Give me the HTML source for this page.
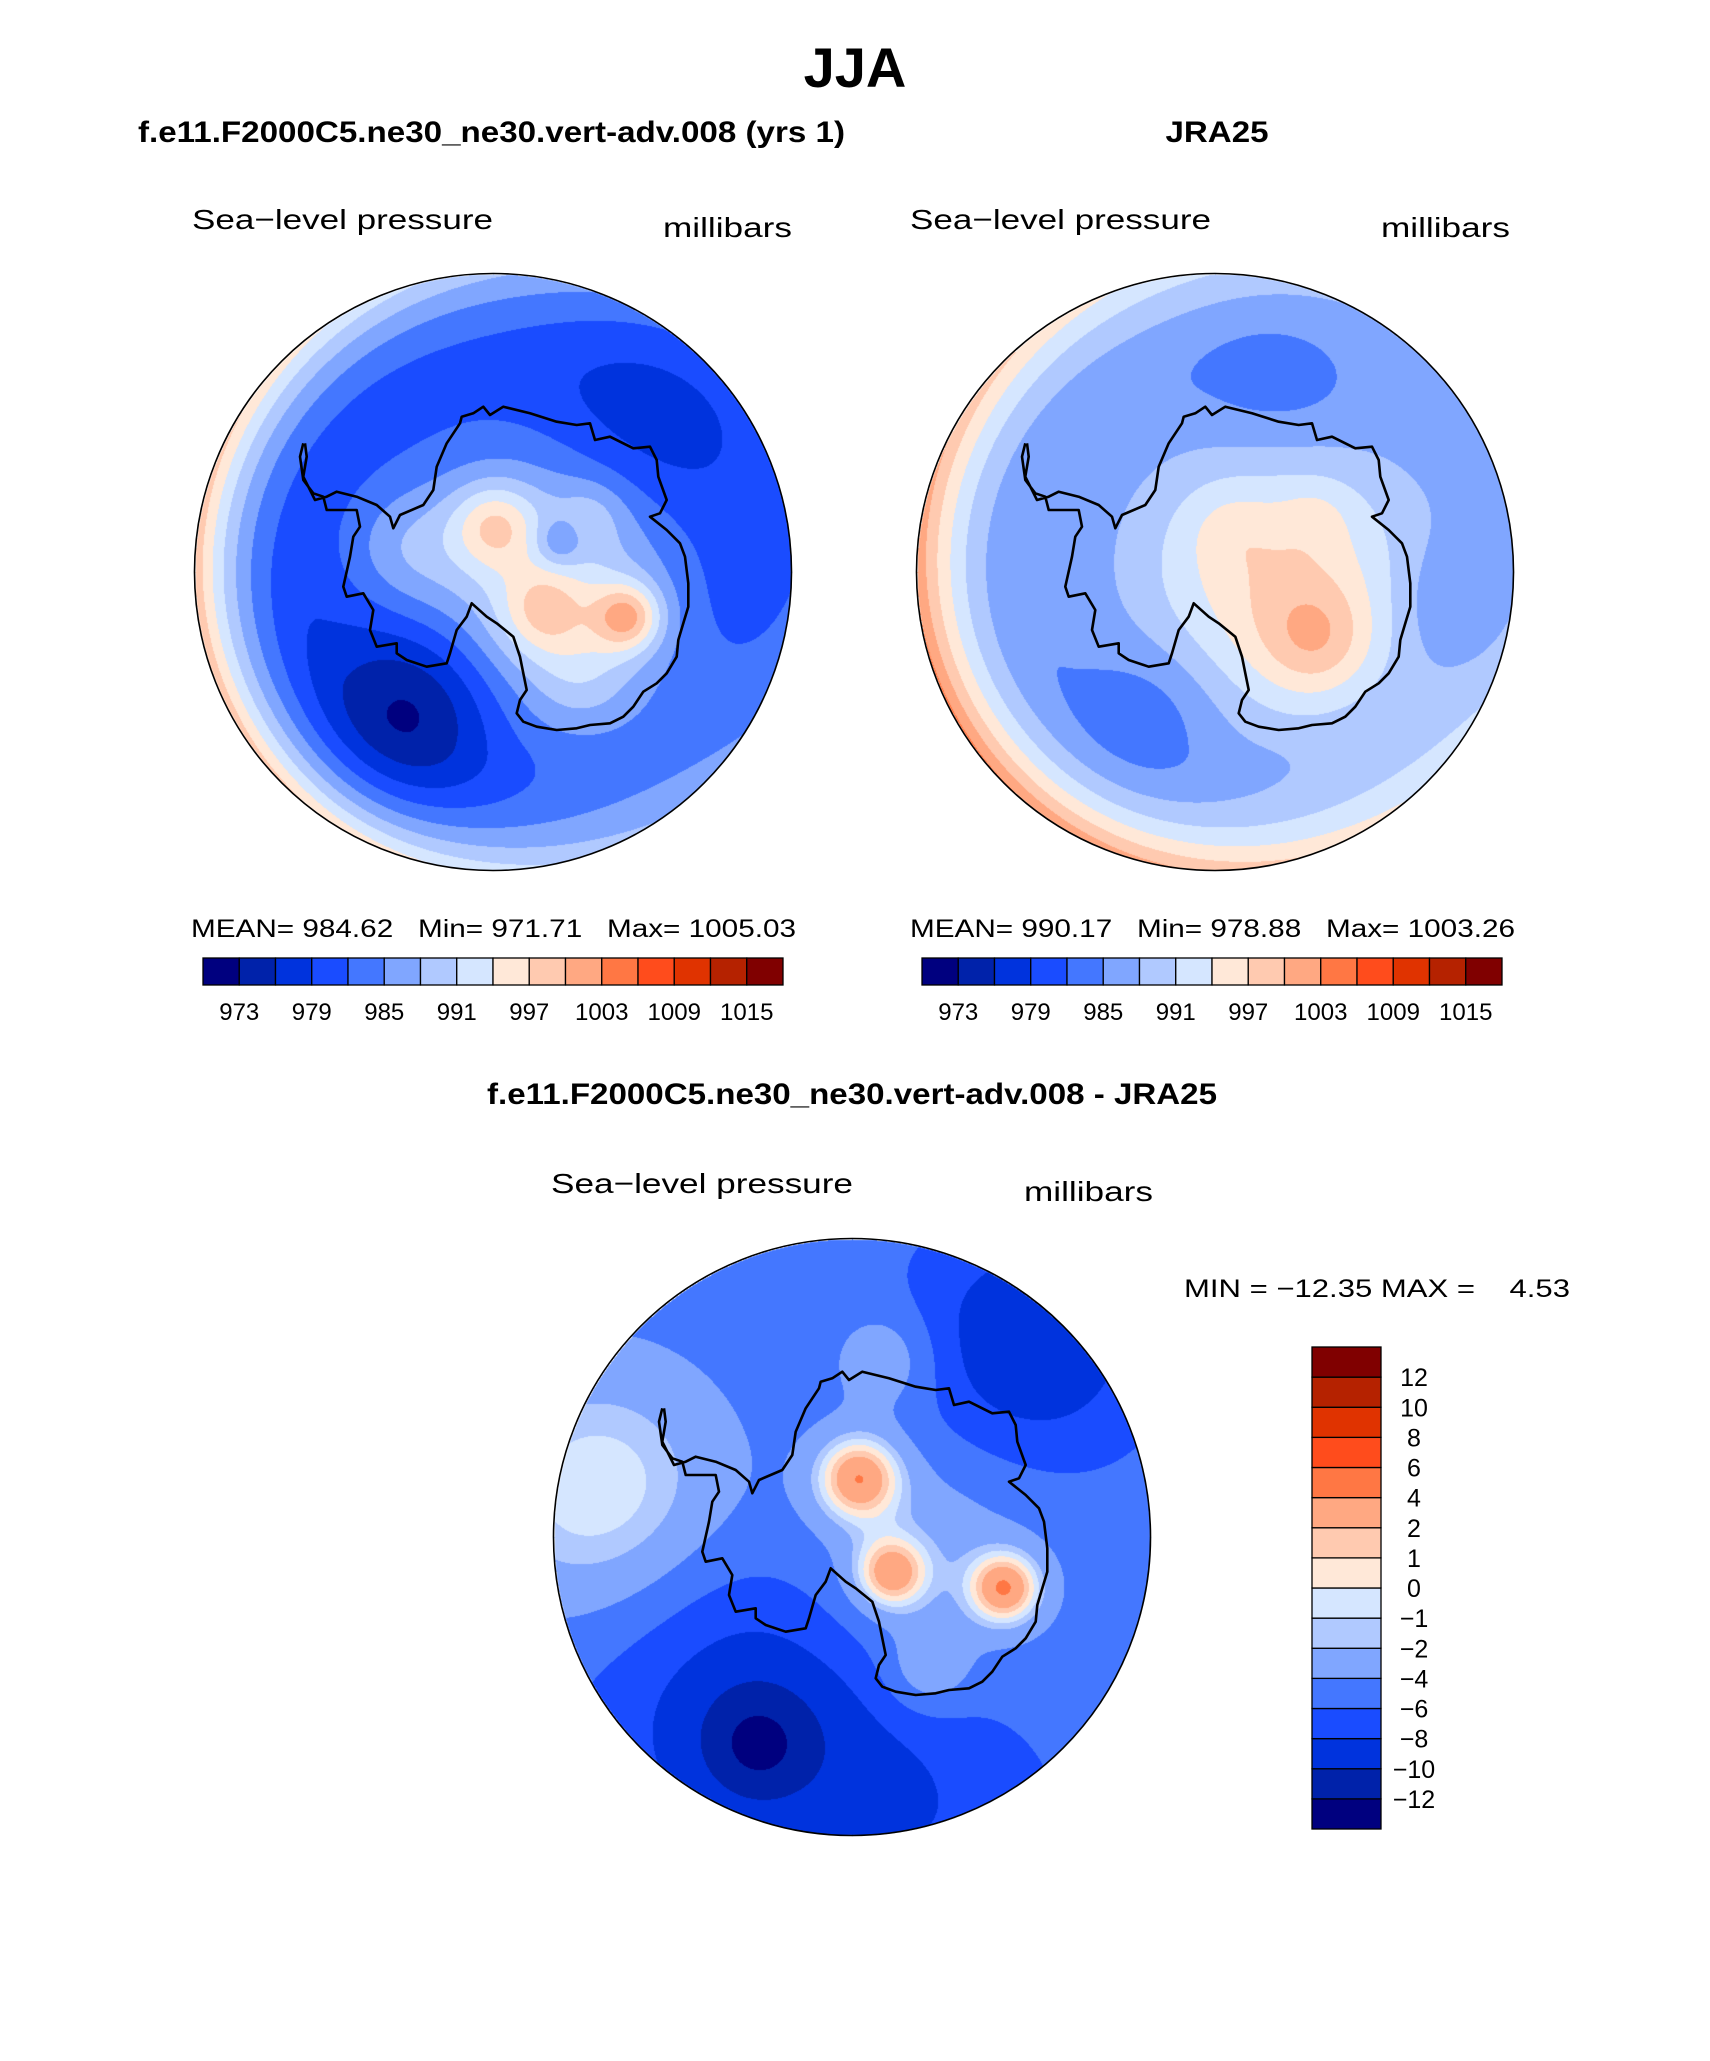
<!DOCTYPE html>
<html><head><meta charset="utf-8"><style>
html,body{margin:0;padding:0;background:#fff;}
#root{position:relative;width:1710px;height:2061px;overflow:hidden;background:#fff;}
canvas{position:absolute;}
svg{position:absolute;left:0;top:0;}
text{font-family:"Liberation Sans",sans-serif;fill:#000;}
</style></head><body>
<div id="root">
<canvas id="c1" width="600" height="600" style="left:193px;top:272px"></canvas>
<canvas id="c2" width="600" height="600" style="left:915px;top:272px"></canvas>
<canvas id="c3" width="600" height="600" style="left:552px;top:1237px"></canvas>
<svg id="ov" width="1710" height="2061">
<text x="855" y="87" font-size="56" font-weight="bold" text-anchor="middle">JJA</text>
<text x="138" y="142" font-size="30" font-weight="bold" textLength="707" lengthAdjust="spacingAndGlyphs">f.e11.F2000C5.ne30_ne30.vert-adv.008 (yrs 1)</text>
<text x="1217" y="142" font-size="30" font-weight="bold" text-anchor="middle" textLength="103" lengthAdjust="spacingAndGlyphs">JRA25</text>
<text x="192" y="229" font-size="28" textLength="301" lengthAdjust="spacingAndGlyphs">Sea−level pressure</text>
<text x="663" y="237" font-size="28" textLength="129" lengthAdjust="spacingAndGlyphs">millibars</text>
<text x="910" y="229" font-size="28" textLength="301" lengthAdjust="spacingAndGlyphs">Sea−level pressure</text>
<text x="1381" y="237" font-size="28" textLength="129" lengthAdjust="spacingAndGlyphs">millibars</text>
<text x="191" y="937" font-size="25" textLength="605" lengthAdjust="spacingAndGlyphs" xml:space="preserve">MEAN= 984.62   Min= 971.71   Max= 1005.03</text>
<text x="910" y="937" font-size="25" textLength="605" lengthAdjust="spacingAndGlyphs" xml:space="preserve">MEAN= 990.17   Min= 978.88   Max= 1003.26</text>
<text x="852" y="1104" font-size="30" font-weight="bold" text-anchor="middle" textLength="730" lengthAdjust="spacingAndGlyphs">f.e11.F2000C5.ne30_ne30.vert-adv.008 - JRA25</text>
<text x="551" y="1193" font-size="28" textLength="302" lengthAdjust="spacingAndGlyphs">Sea−level pressure</text>
<text x="1024" y="1201" font-size="28" textLength="129" lengthAdjust="spacingAndGlyphs">millibars</text>
<text x="1184" y="1297" font-size="25" textLength="386" lengthAdjust="spacingAndGlyphs" xml:space="preserve">MIN = −12.35 MAX =    4.53</text>
<g id="cb1"></g>
<g id="cb2"></g>
<g id="cb3"></g>
<g id="coasts"></g>
</svg>
</div>
<script>
const palette = ["#00007f","#0022aa","#0033dd","#1a4cff","#4477ff","#80a6ff","#b0c9ff","#d5e6ff","#ffe8d8","#ffcab0","#ffa882","#ff7744","#ff4c1c","#e03300","#b52200","#800000"];
const slpLevels = [973,976,979,982,985,988,991,994,997,1000,1003,1006,1009,1012,1015];
const slpTickLabels = ["973","979","985","991","997","1003","1009","1015"];
const diffLevels = [-12,-10,-8,-6,-4,-2,-1,0,1,2,4,6,8,10,12];
const diffTickLabels = ["−12","−10","−8","−6","−4","−2","−1","0","1","2","4","6","8","10","12"];

// Model field: base, edge [mean, cos, sin], blobs (u, v, sigma, amplitude)
const m1Base = 979.5;
const m1Edge = [11, -9, 2];
const m1U = [0.2, 0.0, 0.17, 0.45, 0.3, 0.22, 0.33, -0.3, -0.25, -0.3, 0.5, 0.7];
const m1V = [0.05, -0.16, 0.13, 0.15, 0.35, -0.1, -0.2, -0.08, 0.45, 0.3, -0.45, 0.1];
const m1S = [0.36, 0.1, 0.1, 0.08, 0.12, 0.06, 0.08, 0.15, 0.2, 0.35, 0.28, 0.2];
const m1A = [14, 9, 7, 13, 3, -6, 3, 5, -8, -2, -5, -2];

// JRA25 field
const m2Base = 984.5;
const m2Edge = [10.5, -7.5, 4];
const m2U = [0.2, 0.34, 0.04, 0.34, 0.2, 0.8, -0.2, -0.1];
const m2V = [0.05, 0.23, -0.15, -0.19, -0.6, 0.1, 0.45, 0.3];
const m2S = [0.36, 0.13, 0.1, 0.08, 0.2, 0.15, 0.16, 0.3];
const m2A = [13, 6, 2, 2, -3, -3, -3, -1.5];

// Difference field
const m3Base = -5;
const m3Edge = [0, 0, 0];
const m3U = [0.2, 0.02, 0.13, 0.51, 0.25, 0.12, -0.85, -0.3, -0.32, 0.6, 0.3];
const m3V = [0.1, -0.2, 0.12, 0.17, 0.45, -0.6, -0.15, 0.6, 0.7, -0.65, 0.95];
const m3S = [0.3, 0.1, 0.085, 0.085, 0.1, 0.12, 0.3, 0.38, 0.12, 0.28, 0.3];
const m3A = [3, 8, 7, 8, 3, 3, 5, -5, -3, -5, -2];

function field(u, v, base, edge, U, V, S, A) {
  const r = Math.sqrt(u*u + v*v) || 1e-6;
  let g = Math.max(0, (r - 0.6) / 0.4); g = g*g;
  let val = base + g * (edge[0] + edge[1]*u/r + edge[2]*v/r);
  for (let i = 0; i < U.length; i++) {
    const du = u - U[i], dv = v - V[i];
    val += A[i] * Math.exp(-(du*du + dv*dv) / (2*S[i]*S[i]));
  }
  return val;
}
function levelIndex(val, lv) { let i = 0; while (i < lv.length && val >= lv[i]) i++; return i; }
function hex(c){return [parseInt(c.substr(1,2),16),parseInt(c.substr(3,2),16),parseInt(c.substr(5,2),16)];}
const rgb = palette.map(hex);
function drawMap(id, base, edge, U, V, S, A, lv) {
  const cv = document.getElementById(id), ctx = cv.getContext('2d');
  const img = ctx.createImageData(600, 600), d = img.data, R = 298;
  for (let y = 0; y < 600; y++) for (let x = 0; x < 600; x++) {
    const u = (x - 300) / R, v = (y - 300) / R, k = (y*600 + x)*4;
    if (u*u + v*v > 1) { d[k]=255; d[k+1]=255; d[k+2]=255; d[k+3]=0; continue; }
    const c = rgb[levelIndex(field(u, v, base, edge, U, V, S, A), lv)];
    d[k]=c[0]; d[k+1]=c[1]; d[k+2]=c[2]; d[k+3]=255;
  }
  ctx.putImageData(img, 0, 0);
}
drawMap('c1', m1Base, m1Edge, m1U, m1V, m1S, m1A, slpLevels);
drawMap('c2', m2Base, m2Edge, m2U, m2V, m2S, m2A, slpLevels);
drawMap('c3', m3Base, m3Edge, m3U, m3V, m3S, m3A, diffLevels);

const NS = "http://www.w3.org/2000/svg";
function mk(tag, attrs, parent) { const e = document.createElementNS(NS, tag); for (const k in attrs) e.setAttribute(k, attrs[k]); parent.appendChild(e); return e; }

function hbar(gid, x0, x1, y0, y1, labelY) {
  const g = document.getElementById(gid), w = (x1 - x0) / palette.length;
  palette.forEach((c, i) => {
    const r = mk('rect', {x: x0 + i*w, y: y0, width: w, height: y1 - y0, fill: c, stroke: '#000', 'stroke-width': 1.3}, g);
    
    
  });
  slpTickLabels.forEach((t, j) => {
    const e = mk('text', {x: x0 + (2*j + 1)*w, y: labelY, 'font-size': 24, 'text-anchor': 'middle'}, g);
    e.textContent = t;
    
    
  });
}
hbar('cb1', 203, 783, 958, 985, 1020);
hbar('cb2', 922, 1502, 958, 985, 1020);
(function(){
  const g = document.getElementById('cb3'), x0 = 1312, x1 = 1381, y0 = 1347, y1 = 1829, h = (y1 - y0) / palette.length;
  palette.forEach((c, i) => {
    const r = mk('rect', {x: x0, y: y1 - (i+1)*h, width: x1 - x0, height: h, fill: c, stroke: '#000', 'stroke-width': 1.3}, g);
    
    
  });
  diffTickLabels.forEach((t, j) => {
    const e = mk('text', {x: 1414, y: y1 - (j+1)*h + 9, 'font-size': 25, 'text-anchor': 'middle'}, g);
    e.textContent = t;
    
    
  });
})();

const coastPx = [45,160,50,200,40,260,60,300,75,330,110,320,140,305,200,320,260,345,300,380,310,415,330,375,400,345,430,300,440,230,470,160,510,100,515,80,550,70,580,50,600,75,640,50,720,70,800,95,860,105,900,100,915,150,960,140,1030,175,1080,170,1100,210,1105,260,1130,330,1110,370,1080,380,1130,420,1170,460,1185,500,1195,580,1195,650,1180,700,1165,750,1160,800,1130,850,1100,880,1060,905,1030,950,1000,980,960,1000,900,1005,860,1015,800,1020,740,1010,700,995,680,970,690,930,710,900,700,850,690,800,670,740,620,700,590,680,545,640,530,680,500,720,480,790,470,820,410,830,350,810,320,790,320,760,260,770,240,720,250,660,220,610,170,620,160,590,180,500,190,440,210,410,200,360,110,360,100,320,70,310,40,270,30,200,40,160];
const centers = [[493,572],[1215,572],[852,1537]];
const cg = document.getElementById('coasts');
centers.forEach((c, m) => {
  let pts = [];
  for (let i = 0; i < coastPx.length; i += 2) {
    const u = (290 + coastPx[i]/3 - 493) / 298, v = (390 + coastPx[i+1]/3 - 572) / 298;
    pts.push((c[0] + u*298).toFixed(1) + ',' + (c[1] + v*298).toFixed(1));
  }
  const p = mk('polyline', {points: pts.join(' '), fill: 'none', stroke: '#000', 'stroke-width': 2.6, 'stroke-linejoin': 'round'}, cg);
  
  
  const ring = mk('circle', {cx: c[0], cy: c[1], r: 298.5, fill: 'none', stroke: '#000', 'stroke-width': 1.6}, cg);
  
  
});
</script>
</body></html>
